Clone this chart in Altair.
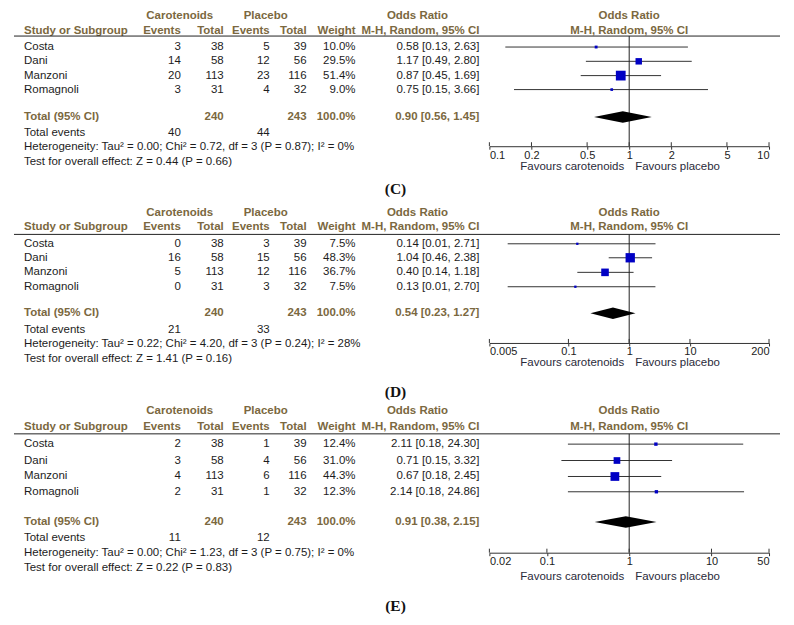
import altair as alt
import pandas as pd

# ---------------- data ----------------
STUDIES = ["Costa", "Dani", "Manzoni", "Romagnoli"]
CAR_TOTAL = [38, 58, 113, 31]
PLA_TOTAL = [39, 56, 116, 32]
TOTAL_WEIGHT = "100.0%"

# Panel (C)
C_CAR_EVENTS = [3, 14, 20, 3]
C_PLA_EVENTS = [5, 12, 23, 4]
C_WEIGHT = [10.0, 29.5, 51.4, 9.0]
C_OR = [0.58, 1.17, 0.87, 0.75]
C_LO = [0.13, 0.49, 0.45, 0.15]
C_HI = [2.63, 2.80, 1.69, 3.66]
C_TOTAL_OR = [0.90, 0.56, 1.45]
C_TOTAL_EVENTS = [40, 44]
C_HET = "Heterogeneity: Tau\u00b2 = 0.00; Chi\u00b2 = 0.72, df = 3 (P = 0.87); I\u00b2 = 0%"
C_TEST = "Test for overall effect: Z = 0.44 (P = 0.66)"
C_TICKS = [0.1, 0.2, 0.5, 1, 2, 5, 10]

# Panel (D)
D_CAR_EVENTS = [0, 16, 5, 0]
D_PLA_EVENTS = [3, 15, 12, 3]
D_WEIGHT = [7.5, 48.3, 36.7, 7.5]
D_OR = [0.14, 1.04, 0.40, 0.13]
D_LO = [0.01, 0.46, 0.14, 0.01]
D_HI = [2.71, 2.38, 1.18, 2.70]
D_TOTAL_OR = [0.54, 0.23, 1.27]
D_TOTAL_EVENTS = [21, 33]
D_HET = "Heterogeneity: Tau\u00b2 = 0.22; Chi\u00b2 = 4.20, df = 3 (P = 0.24); I\u00b2 = 28%"
D_TEST = "Test for overall effect: Z = 1.41 (P = 0.16)"
D_TICKS = [0.005, 0.1, 1, 10, 200]

# Panel (E)
E_CAR_EVENTS = [2, 3, 4, 2]
E_PLA_EVENTS = [1, 4, 6, 1]
E_WEIGHT = [12.4, 31.0, 44.3, 12.3]
E_OR = [2.11, 0.71, 0.67, 2.14]
E_LO = [0.18, 0.15, 0.18, 0.18]
E_HI = [24.30, 3.32, 2.45, 24.86]
E_TOTAL_OR = [0.91, 0.38, 2.15]
E_TOTAL_EVENTS = [11, 12]
E_HET = "Heterogeneity: Tau\u00b2 = 0.00; Chi\u00b2 = 1.23, df = 3 (P = 0.75); I\u00b2 = 0%"
E_TEST = "Test for overall effect: Z = 0.22 (P = 0.83)"
E_TICKS = [0.02, 0.1, 1, 10, 50]

# ---------------- layout / style ----------------
FONT = "Liberation Sans"
SERIF = "Liberation Serif"
HEAD = "#7b6840"
DARK = "#1c1c1c"
BLUE = "#0000c4"
W = 767
FOREST_RANGE = [476, 756]
FS = 11.5

COLX = dict(study=10, car_ev=167, car_tot=210, pla_ev=256, pla_tot=293,
            weight=342, orci=466, car_head=166, pla_head=252, or_head=404, label=382)

LAYOUTS = {
    "C": dict(H=136, h1=6, h2=20.7, line=25.7, rows=[36.7, 51.0, 65.3, 79.3],
              total=106.7, te=122.7, het=136.7, test=151.7, fav=156.5, label=179),
    "D": dict(H=135, h1=5.3, h2=19.3, line=26.3, rows=[35.7, 49.7, 64.3, 78.7],
              total=105.3, te=121.7, het=136.3, test=151.0, fav=155.5, label=184),
    "E": dict(H=148, h1=6, h2=22.3, line=29.0, rows=[39.3, 55.7, 71.7, 87.0],
              total=117.3, te=133.7, het=148.3, test=163.3, fav=172.5, label=201),
}


def fmt_or(o, lo, hi):
    return f"{o:.2f} [{lo:.2f}, {hi:.2f}]"


def panel(tag, car_ev, pla_ev, weight, ors, los, his, tot, tot_ev, het, test, ticks):
    L = LAYOUTS[tag]
    H = L["H"]
    yscale = alt.Scale(domain=[0, H], range=[0, H], nice=False, zero=False)
    xscale = alt.Scale(type="log", domain=[ticks[0], ticks[-1]], range=FOREST_RANGE, nice=False)
    axis = alt.Axis(values=ticks, format="~g", title=None, grid=False, domainColor="#333",
                    tickColor="#333", tickSize=3, labelPadding=0, labelFont=FONT,
                    labelFontSize=11, labelColor="#222", labelFlush=True, labelOverlap=False,
                    orient="bottom")

    def Y(f="y"):
        return alt.Y(f"{f}:Q", scale=yscale, axis=None)

    def X(f):
        return alt.X(f"{f}:Q", scale=xscale, axis=axis)

    def txt(texts, ys, x, align, bold=False, color=DARK, size=FS, font=FONT):
        df = pd.DataFrame({"t": texts, "y": ys})
        return alt.Chart(df).mark_text(
            align=align, baseline="middle", font=font, fontSize=size,
            fontWeight="bold" if bold else "normal", color=color
        ).encode(x=alt.value(x), y=Y(), text="t:N")

    rows = L["rows"]
    layers = []

    # forest (first, so the axis is defined here)
    fdf = pd.DataFrame({"or": ors, "lo": los, "hi": his, "w": weight, "y": rows})
    vl = pd.DataFrame({"x": [1], "y1": [L["line"]], "y2": [H]})
    layers.append(alt.Chart(fdf).mark_rule(color="#333", strokeWidth=1)
                  .encode(x=X("lo"), x2="hi:Q", y=Y()))
    layers.append(alt.Chart(vl).mark_rule(color="#222", strokeWidth=1)
                  .encode(x=X("x"), y=Y("y1"), y2="y2:Q"))
    # upper half of the axis ticks
    tk = pd.DataFrame({"x": ticks, "y1": [H - 4] * len(ticks), "y2": [H] * len(ticks)})
    layers.append(alt.Chart(tk).mark_rule(color="#333", strokeWidth=1)
                  .encode(x=X("x"), y=Y("y1"), y2="y2:Q"))
    layers.append(alt.Chart(fdf).mark_square(filled=True, opacity=1, color=BLUE)
                  .encode(x=X("or"), y=Y(),
                          size=alt.Size("w:Q", scale=alt.Scale(type="pow", exponent=1.5,
                                                               domain=[0, 100], range=[0, 260]),
                                        legend=None)))
    half = 5.8
    ty = L["total"]
    dm = pd.DataFrame({"x": [tot[1], tot[0], tot[2]],
                       "yt": [ty, ty - half, ty], "yb": [ty, ty + half, ty]})
    layers.append(alt.Chart(dm).mark_area(color="black", opacity=1)
                  .encode(x=X("x"), y=Y("yt"), y2="yb:Q"))

    # header row 1
    layers.append(txt(["Carotenoids"], [L["h1"]], COLX["car_head"], "center", True, HEAD))
    layers.append(txt(["Placebo"], [L["h1"]], COLX["pla_head"], "center", True, HEAD))
    layers.append(txt(["Odds Ratio"], [L["h1"]], COLX["or_head"], "center", True, HEAD))
    # header row 2
    layers.append(txt(["Study or Subgroup"], [L["h2"]], COLX["study"], "left", True, HEAD))
    for key, lab in [("car_ev", "Events"), ("car_tot", "Total"), ("pla_ev", "Events"),
                     ("pla_tot", "Total"), ("weight", "Weight"), ("orci", "M-H, Random, 95% CI")]:
        layers.append(txt([lab], [L["h2"]], COLX[key], "right", True, HEAD))
    # forest headers
    fh = pd.DataFrame({"x": [1, 1], "y": [L["h1"], L["h2"]], "t": ["Odds Ratio", "M-H, Random, 95% CI"]})
    layers.append(alt.Chart(fh).mark_text(align="center", baseline="middle", font=FONT, fontSize=FS,
                                          fontWeight="bold", color=HEAD)
                  .encode(x=X("x"), y=Y(), text="t:N"))
    # header line
    hl = pd.DataFrame({"y": [L["line"]]})
    layers.append(alt.Chart(hl).mark_rule(color="#222", strokeWidth=1)
                  .encode(x=alt.value(0), x2=alt.value(W), y=Y()))
    # study rows
    layers.append(txt(STUDIES + ["Total events", het, test],
                      rows + [L["te"], L["het"], L["test"]], COLX["study"], "left"))
    layers.append(txt([str(v) for v in car_ev] + [str(tot_ev[0])], rows + [L["te"]], COLX["car_ev"], "right"))
    layers.append(txt([str(v) for v in CAR_TOTAL], rows, COLX["car_tot"], "right"))
    layers.append(txt([str(v) for v in pla_ev] + [str(tot_ev[1])], rows + [L["te"]], COLX["pla_ev"], "right"))
    layers.append(txt([str(v) for v in PLA_TOTAL], rows, COLX["pla_tot"], "right"))
    layers.append(txt([f"{w:.1f}%" for w in weight], rows, COLX["weight"], "right"))
    layers.append(txt([fmt_or(o, a, b) for o, a, b in zip(ors, los, his)], rows, COLX["orci"], "right"))
    # total row
    layers.append(txt(["Total (95% CI)"], [L["total"]], COLX["study"], "left", True, HEAD))
    layers.append(txt([str(sum(CAR_TOTAL))], [L["total"]], COLX["car_tot"], "right", True, HEAD))
    layers.append(txt([str(sum(PLA_TOTAL))], [L["total"]], COLX["pla_tot"], "right", True, HEAD))
    layers.append(txt([TOTAL_WEIGHT], [L["total"]], COLX["weight"], "right", True, HEAD))
    layers.append(txt([fmt_or(*tot)], [L["total"]], COLX["orci"], "right", True, HEAD))

    # favours
    fv = pd.DataFrame({"x": [1], "y": [L["fav"]]})
    layers.append(alt.Chart(fv).mark_text(align="right", baseline="middle", dx=-5, font=FONT,
                                          fontSize=11.5, color="#2a2a3a", text="Favours carotenoids")
                  .encode(x=X("x"), y=Y()))
    layers.append(alt.Chart(fv).mark_text(align="left", baseline="middle", dx=6, font=FONT,
                                          fontSize=11.5, color="#2a2a3a", text="Favours placebo")
                  .encode(x=X("x"), y=Y()))
    # panel label
    layers.append(txt([f"({tag})"], [L["label"]], COLX["label"], "center", True, "#111", 15.5, SERIF))

    return alt.layer(*layers).properties(width=W, height=H)


pC = panel("C", C_CAR_EVENTS, C_PLA_EVENTS, C_WEIGHT, C_OR, C_LO, C_HI, C_TOTAL_OR,
           C_TOTAL_EVENTS, C_HET, C_TEST, C_TICKS)
pD = panel("D", D_CAR_EVENTS, D_PLA_EVENTS, D_WEIGHT, D_OR, D_LO, D_HI, D_TOTAL_OR,
           D_TOTAL_EVENTS, D_HET, D_TEST, D_TICKS)
pE = panel("E", E_CAR_EVENTS, E_PLA_EVENTS, E_WEIGHT, E_OR, E_LO, E_HI, E_TOTAL_OR,
           E_TOTAL_EVENTS, E_HET, E_TEST, E_TICKS)

chart = alt.vconcat(pC, pD, pE, spacing=62, bounds="flush").properties(
    padding={"left": 5, "top": 2, "right": 5, "bottom": 5}
).configure_view(stroke=None)

chart.save("out.html", embed_options={"renderer": "svg", "actions": False})
